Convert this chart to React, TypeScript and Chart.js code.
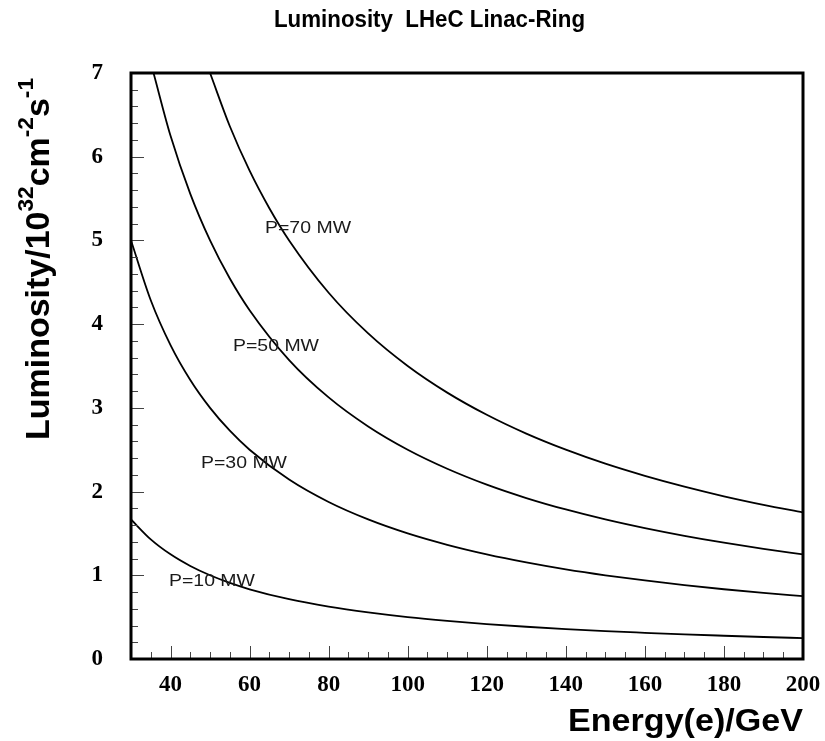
import React, { useEffect, useRef } from "react";
import { Chart, registerables } from "chart.js";

Chart.register(...registerables);

const chartTitle = "Luminosity  LHeC Linac-Ring";
const xAxisTitle = "Energy(e)/GeV";
const yTitleParts: { t: string; sup: boolean }[] = [
  { t: "Luminosity/10", sup: false },
  { t: "32", sup: true },
  { t: "cm", sup: false },
  { t: "-2", sup: true },
  { t: "s", sup: false },
  { t: "-1", sup: true },
];

const xTickValues = [40, 60, 80, 100, 120, 140, 160, 180, 200];
const yTickValues = [0, 1, 2, 3, 4, 5, 6, 7];

// P = 10 MW
const energyP10 = [30, 35, 40, 45, 50, 55, 60, 70, 80, 90, 100, 110, 120, 130, 140, 150, 160, 170, 180, 190, 200];
const lumiP10 = [1.667, 1.429, 1.25, 1.111, 1.0, 0.909, 0.833, 0.714, 0.625, 0.556, 0.5, 0.455, 0.417, 0.385, 0.357, 0.333, 0.313, 0.294, 0.278, 0.263, 0.25];
// P = 30 MW
const energyP30 = [30, 35, 40, 45, 50, 55, 60, 70, 80, 90, 100, 110, 120, 130, 140, 150, 160, 170, 180, 190, 200];
const lumiP30 = [5.0, 4.286, 3.75, 3.333, 3.0, 2.727, 2.5, 2.143, 1.875, 1.667, 1.5, 1.364, 1.25, 1.154, 1.071, 1.0, 0.938, 0.882, 0.833, 0.789, 0.75];
// P = 50 MW
const energyP50 = [35.7, 40, 45, 50, 55, 60, 70, 80, 90, 100, 110, 120, 130, 140, 150, 160, 170, 180, 190, 200];
const lumiP50 = [7.0, 6.25, 5.556, 5.0, 4.545, 4.167, 3.571, 3.125, 2.778, 2.5, 2.273, 2.083, 1.923, 1.786, 1.667, 1.563, 1.471, 1.389, 1.316, 1.25];
// P = 70 MW
const energyP70 = [50, 55, 60, 65, 70, 80, 90, 100, 110, 120, 130, 140, 150, 160, 170, 180, 190, 200];
const lumiP70 = [7.0, 6.364, 5.833, 5.385, 5.0, 4.375, 3.889, 3.5, 3.182, 2.917, 2.692, 2.5, 2.333, 2.188, 2.059, 1.944, 1.842, 1.75];

const curveLabels = ["P=70 MW", "P=50 MW", "P=30 MW", "P=10 MW"];
const curveLabelX = [63.9, 55.8, 47.7, 39.6];
const curveLabelY = [5.15, 3.74, 2.34, 0.93];

const toPoints = (xs: number[], ys: number[]) => xs.map((x, i) => ({ x, y: ys[i] }));

const fitText = (ctx: CanvasRenderingContext2D, text: string, x: number, y: number, width: number) => {
  const w = ctx.measureText(text).width;
  ctx.save();
  ctx.translate(x, y);
  ctx.scale(width / w, 1);
  ctx.fillText(text, 0, 0);
  ctx.restore();
};

const decorPlugin = {
  id: "decor",
  afterDraw(chart: any) {
    const ctx: CanvasRenderingContext2D = chart.ctx;
    const a = chart.chartArea;
    const xs = chart.scales.x;
    const ys = chart.scales.y;
    ctx.save();

    // inward ticks
    ctx.strokeStyle = "#444";
    ctx.lineWidth = 1;
    for (let v = 35; v < 200; v += 5) {
      const px = Math.round(xs.getPixelForValue(v)) + 0.5;
      const len = v % 20 === 0 ? 13 : 7;
      ctx.beginPath();
      ctx.moveTo(px, a.bottom);
      ctx.lineTo(px, a.bottom - len);
      ctx.stroke();
    }
    for (let i = 1; i < 35; i++) {
      const v = i * 0.2;
      const py = Math.round(ys.getPixelForValue(v)) + 0.5;
      const len = i % 5 === 0 ? 13 : 7;
      ctx.beginPath();
      ctx.moveTo(a.left, py);
      ctx.lineTo(a.left + len, py);
      ctx.stroke();
    }

    // frame
    ctx.strokeStyle = "#000";
    ctx.lineWidth = 3;
    ctx.strokeRect(a.left, a.top, a.right - a.left, a.bottom - a.top);

    // chart title
    ctx.fillStyle = "#000";
    ctx.font = "bold 23px 'Liberation Sans', Arial, sans-serif";
    ctx.textAlign = "left";
    ctx.textBaseline = "middle";
    fitText(ctx, chartTitle, 274, 21, 311);

    // x axis title
    ctx.font = "bold 32px 'Liberation Sans', Arial, sans-serif";
    ctx.textAlign = "left";
    ctx.textBaseline = "alphabetic";
    fitText(ctx, xAxisTitle, a.right - 235, 731, 235);

    // y axis title with superscripts
    const mainFont = "bold 33px 'Liberation Sans', Arial, sans-serif";
    const supFont = "bold 22px 'Liberation Sans', Arial, sans-serif";
    let total = 0;
    const widths = yTitleParts.map((p) => {
      ctx.font = p.sup ? supFont : mainFont;
      const w = ctx.measureText(p.t).width;
      total += w;
      return w;
    });
    const targetLen = 362;
    ctx.save();
    ctx.translate(49, 259);
    ctx.rotate(-Math.PI / 2);
    ctx.scale(targetLen / total, 1);
    ctx.textAlign = "left";
    let cx = -total / 2;
    yTitleParts.forEach((p, i) => {
      ctx.font = p.sup ? supFont : mainFont;
      ctx.fillText(p.t, cx, p.sup ? -16 : 0);
      cx += widths[i];
    });
    ctx.restore();

    // curve labels
    ctx.fillStyle = "#1a1a1a";
    ctx.font = "17px 'Liberation Sans', Arial, sans-serif";
    ctx.textAlign = "left";
    ctx.textBaseline = "middle";
    curveLabels.forEach((lab, i) => {
      const px = xs.getPixelForValue(curveLabelX[i]);
      const py = ys.getPixelForValue(curveLabelY[i]);
      fitText(ctx, lab, px, py, 86);
    });

    ctx.restore();
  },
};

export default function App() {
  const ref = useRef<HTMLCanvasElement | null>(null);
  useEffect(() => {
    document.body.style.margin = "0";
    const canvas = ref.current!;
    const lineStyle = {
      borderColor: "#000",
      borderWidth: 1.8,
      pointRadius: 0,
      fill: false,
      cubicInterpolationMode: "monotone" as const,
    };
    const tickFont = { family: "'Liberation Serif', 'Times New Roman', serif", weight: "bold" as const, size: 23 };
    const chart = new Chart(canvas, {
      type: "line",
      data: {
        datasets: [
          { label: "P=10 MW", data: toPoints(energyP10, lumiP10), ...lineStyle },
          { label: "P=30 MW", data: toPoints(energyP30, lumiP30), ...lineStyle },
          { label: "P=50 MW", data: toPoints(energyP50, lumiP50), ...lineStyle },
          { label: "P=70 MW", data: toPoints(energyP70, lumiP70), ...lineStyle },
        ],
      },
      options: {
        animation: false,
        responsive: false,
        events: [],
        layout: { padding: { top: 73, right: 22, left: 0, bottom: 0 } },
        plugins: { legend: { display: false }, tooltip: { enabled: false }, title: { display: false } },
        scales: {
          x: {
            type: "linear",
            min: 30,
            max: 200,
            grid: { display: false, drawTicks: false },
            border: { display: false },
            afterBuildTicks: (s: any) => {
              s.ticks = xTickValues.map((v) => ({ value: v }));
            },
            afterFit: (s: any) => {
              s.height = 82;
              s.paddingLeft = 0;
              s.paddingRight = 0;
            },
            ticks: {
              padding: 12,
              color: "#000",
              autoSkip: false,
              maxRotation: 0,
              font: tickFont,
            },
          },
          y: {
            type: "linear",
            min: 0,
            max: 7,
            grid: { display: false, drawTicks: false },
            border: { display: false },
            afterBuildTicks: (s: any) => {
              s.ticks = yTickValues.map((v) => ({ value: v }));
            },
            afterFit: (s: any) => {
              s.width = 131;
              s.paddingTop = 0;
              s.paddingBottom = 0;
            },
            ticks: {
              padding: 28,
              color: "#000",
              autoSkip: false,
              font: tickFont,
            },
          },
        },
      },
      plugins: [decorPlugin],
    });
    return () => chart.destroy();
  }, []);
  return (
    <div style={{ width: 825, height: 741, background: "#fff" }}>
      <canvas ref={ref} width={825} height={741} style={{ display: "block" }} />
    </div>
  );
}
